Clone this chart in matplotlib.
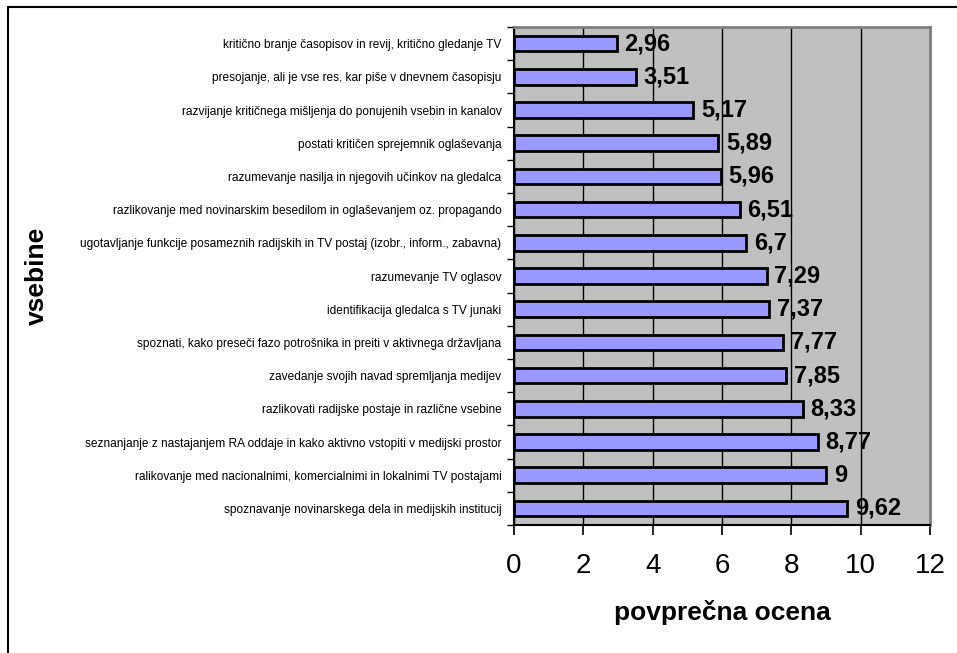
import matplotlib.pyplot as plt
from matplotlib.patches import Rectangle

plt.rcParams['font.family'] = ['Liberation Sans', 'DejaVu Sans']

# vsebine, od zgoraj navzdol
topics = [
    "kritično branje časopisov in revij, kritično gledanje TV",
    "presojanje, ali je vse res, kar piše v dnevnem časopisju",
    "razvijanje kritičnega mišljenja do ponujenih vsebin in kanalov",
    "postati kritičen sprejemnik oglaševanja",
    "razumevanje nasilja in njegovih učinkov na gledalca",
    "razlikovanje med novinarskim besedilom in oglaševanjem oz. propagando",
    "ugotavljanje funkcije posameznih radijskih in TV postaj (izobr., inform., zabavna)",
    "razumevanje TV oglasov",
    "identifikacija gledalca s TV junaki",
    "spoznati, kako preseči fazo potrošnika in preiti v aktivnega državljana",
    "zavedanje svojih navad spremljanja medijev",
    "razlikovati radijske postaje in različne vsebine",
    "seznanjanje z nastajanjem RA oddaje in kako aktivno vstopiti v medijski prostor",
    "ralikovanje med nacionalnimi, komercialnimi in lokalnimi TV postajami",
    "spoznavanje novinarskega dela in medijskih institucij",
]
scores = [2.96, 3.51, 5.17, 5.89, 5.96, 6.51, 6.7, 7.29, 7.37, 7.77, 7.85, 8.33, 8.77, 9, 9.62]
x_ticks = [0, 2, 4, 6, 8, 10, 12]

fig = plt.figure(figsize=(9.57, 6.53), dpi=100)
ax = fig.add_axes([514 / 957, 1 - 525 / 653, 416 / 957, 498 / 653])
ax.set_facecolor('#C0C0C0')

pos = list(range(len(topics)))
ax.barh(pos, scores, height=0.47, color='#9999FF', edgecolor='black', linewidth=2, zorder=3)

for y, v in zip(pos, scores):
    label = f"{v:g}".replace('.', ',')
    ax.text(v + 0.22, y, label, va='center', ha='left', fontsize=17, fontweight='bold', zorder=4)

ax.set_xlim(0, 12)
ax.set_ylim(len(topics) - 0.5, -0.5)
ax.set_xticks(x_ticks)
ax.set_xticklabels([str(t) for t in x_ticks], fontsize=20)
ax.tick_params(axis='x', direction='out', length=7, width=1.2, pad=13)
ax.xaxis.grid(True, color='black', linewidth=1, zorder=1)

# kategorije: oznake na sredini, kljukice na mejah
ax.set_yticks(pos)
ax.set_yticklabels(topics, fontsize=8.6)
ax.tick_params(axis='y', length=0, pad=9)
ax.set_yticks([p - 0.5 for p in pos] + [len(topics) - 0.5], minor=True)
ax.tick_params(axis='y', which='minor', direction='out', length=5, width=1)

for side in ['left', 'bottom']:
    ax.spines[side].set_color('black')
    ax.spines[side].set_linewidth(1.5)
for side in ['top', 'right']:
    ax.spines[side].set_color('#808080')
    ax.spines[side].set_linewidth(2)

ax.set_xlabel("povprečna ocena", fontsize=19, fontweight='bold', labelpad=15)
fig.text(37 / 957, 1 - 276 / 653, "vsebine", rotation=90, fontsize=19, fontweight='bold',
         ha='center', va='center')

# okvir okoli grafikona
fig.patches.append(Rectangle((8 / 957, -0.05), 1.1, 1 - 7 / 653 + 0.05, transform=fig.transFigure,
                             fill=False, edgecolor='black', linewidth=1.5))

fig.savefig('out.png', dpi=100)
